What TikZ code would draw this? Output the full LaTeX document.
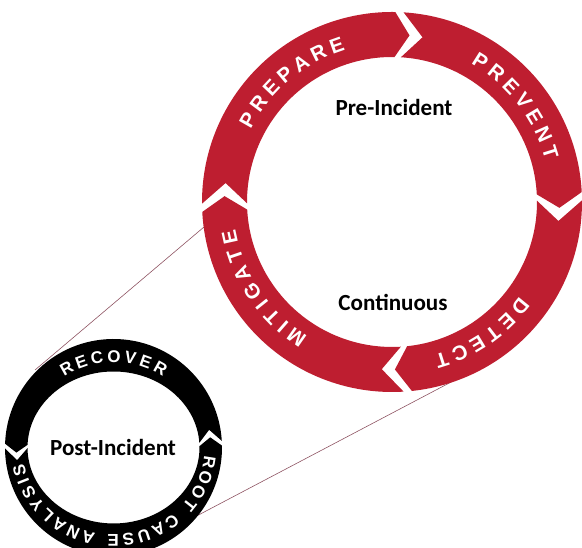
\documentclass[tikz,border=0pt]{standalone}
\usepackage{fontspec}
\setmainfont{Carlito}
\newfontfamily\ringfont{Liberation Sans}

\definecolor{ringred}{RGB}{190,30,48}
\definecolor{zoomline}{RGB}{140,80,95}

% one chevron segment of a ring:
% [colour]{tail angle}{head angle}{outer r}{inner x r}{inner y r}{tip offset}
\newcommand{\ringarrow}[7][]{%
  \fill[#1] (#2:#4) arc[start angle=#2, end angle=#3, radius=#4]
    -- ({#3+#7}:{(#4+#5)/2}) -- (#3:#5 and #6)
    arc[start angle=#3, end angle=#2, x radius=#5, y radius=#6]
    -- ({#2+1.4*#7}:{(#4+#5)/2}) -- cycle;}

\tikzset{
  phase/.style={font=\bfseries\fontsize{19.7}{22}\selectfont},
  redletter/.style={text=white, inner sep=0pt, font=\ringfont\bfseries\fontsize{17.5}{18}\selectfont},
  blackletter/.style={text=white, inner sep=0pt, font=\ringfont\bfseries\fontsize{14.5}{15}\selectfont},
  zoomlink/.style={zoomline, line width=0.5pt}
}

\begin{document}
\begin{tikzpicture}[x=0.3mm, y=0.3mm]
\useasboundingbox (0,0) rectangle (582,548);

\coordinate (redc) at (392,346);
\coordinate (blackc) at (113.5,100.5);

% Zoom lines between the two cycles
\coordinate (zoomA1) at (35,178);
\coordinate (zoomA2) at (204,321);
\coordinate (zoomB1) at (170,18);
\coordinate (zoomB2) at (455,168);
\draw[zoomlink] (zoomA1) -- (zoomA2);
\draw[zoomlink] (zoomB1) -- (zoomB2);

% Pre-incident cycle
\begin{scope}[shift={(redc)}]
    \ringarrow[ringred]{180.5}{89}{190}{145}{145}{-5}
    \ringarrow[ringred]{86.5}{3}{190}{145}{145}{-5}
    \ringarrow[ringred]{0.5}{-84}{190}{145}{145}{-5}
    \ringarrow[ringred]{-86.5}{-177}{190}{145}{145}{-5}

    \foreach \ch/\a [count=\i] in {P/150.3, R/143.5, E/136.7, P/130.1, A/123.3, R/116.3, E/109.5}
        \node[redletter, rotate=\a-90] (prepare-\i) at (\a:166) {\ch};
    \foreach \ch/\a [count=\i] in {P/57.8, R/51.0, E/44.2, V/37.6, E/30.9, N/24.1, T/17.5}
        \node[redletter, rotate=\a-90] (prevent-\i) at (\a:166) {\ch};
    \foreach \ch/\a [count=\i] in {D/-39.3, E/-46.1, T/-52.6, E/-59.0, C/-65.8, T/-72.5}
        \node[redletter, rotate=\a-90] (detect-\i) at (\a:166) {\ch};
    \foreach \ch/\a [count=\i] in {M/-125.1, I/-131.1, T/-136.3, I/-141.6, G/-147.3, A/-154.5, T/-161.1, E/-167.6}
        \node[redletter, rotate=\a-90] (mitigate-\i) at (\a:166) {\ch};
\end{scope}

% Post-incident cycle
\begin{scope}[shift={(blackc)}]
    \ringarrow[black]{3.5}{178}{108.5}{86}{76}{5}
    \ringarrow[black]{180.5}{361}{108.5}{86}{76}{5}

    \foreach \ch/\a [count=\i] in {R/119.3, E/109.6, C/99.9, O/89.7, V/79.8, E/70.4, R/60.7}
        \node[blackletter, rotate=\a-90] (recover-\i) at (\a:96 and 91) {\ch};
    \foreach \ch/\a [count=\i] in {R/-9.0, O/-18.8, O/-28.8, T/-38.1, C/-52.8, A/-62.3, U/-71.8, S/-81.1,
                                   E/-90.2, A/-105.1, N/-114.6, A/-124.2, L/-133.2, Y/-142.0, S/-151.0, I/-158.4, S/-165.7}
        \node[blackletter, rotate=\a-90] (rca-\i) at (\a:97 and 93) {\ch};
\end{scope}

% Phase labels
\node[phase] (pre) at (394,441) {Pre-Incident};
\node[phase] (cont) at (393,246) {Continuous};
\node[phase] (post) at (113,101) {Post-Incident};

\end{tikzpicture}
\end{document}
